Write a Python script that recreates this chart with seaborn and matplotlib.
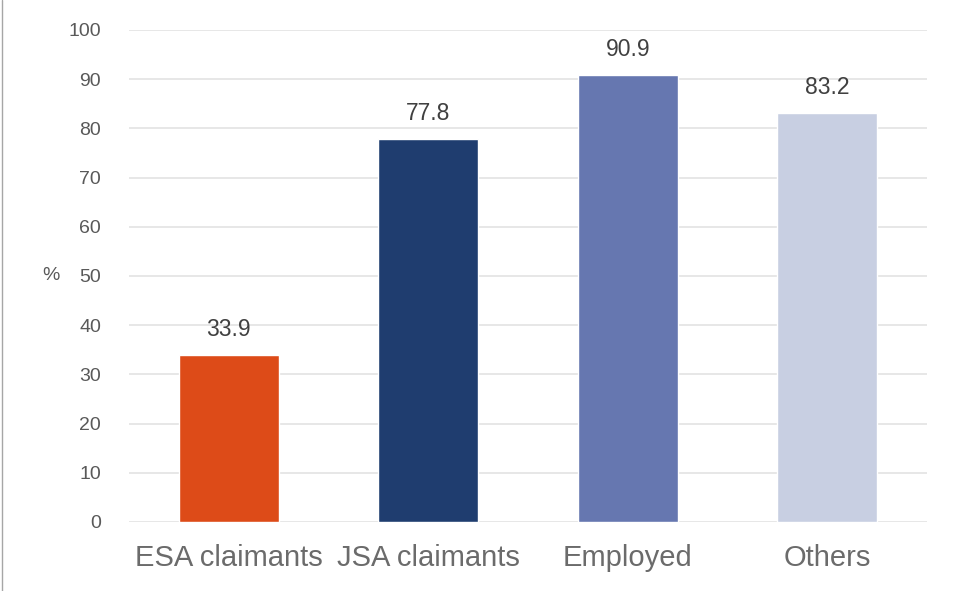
import pandas as pd
import seaborn as sns
import matplotlib.pyplot as plt
from matplotlib.lines import Line2D

groups = ["ESA claimants", "JSA claimants", "Employed", "Others"]
values = [33.9, 77.8, 90.9, 83.2]
colors = ["#DD4B18", "#1F3D6F", "#6677B0", "#C8CFE2"]

df = pd.DataFrame({"group": groups, "pct": values})

sns.set_style("white")
plt.rcParams["font.family"] = ["Liberation Sans", "DejaVu Sans"]

fig = plt.figure(figsize=(9.55, 5.91), dpi=100)
ax = fig.add_axes([129 / 955, 1 - 522 / 591, 798 / 955, 492 / 591])

sns.barplot(data=df, x="group", y="pct", hue="group", palette=colors,
            width=0.5, legend=False, ax=ax, saturation=1)

ax.set_ylim(0, 100)
ax.set_yticks(range(0, 101, 10))
ax.yaxis.grid(True, color="#E3E3E3", linewidth=1.2)
ax.set_axisbelow(True)
for s in ax.spines.values():
    s.set_visible(False)
ax.tick_params(axis="y", length=0, pad=20, labelsize=14, labelcolor="#595959")
ax.tick_params(axis="x", length=0, pad=16, labelsize=21, labelcolor="#6b6b6b")
ax.set_xlabel("")
ax.set_ylabel("%", rotation=0, fontsize=14, color="#595959", labelpad=13, va="center")

for c in ax.containers:
    ax.bar_label(c, fmt="%.1f", padding=10, fontsize=16.5, color="#404040")

fig.add_artist(Line2D([1.5 / 955, 1.5 / 955], [0, 1], color="#A6A6A6", linewidth=1,
                      transform=fig.transFigure))

plt.savefig("out.png", dpi=100)
